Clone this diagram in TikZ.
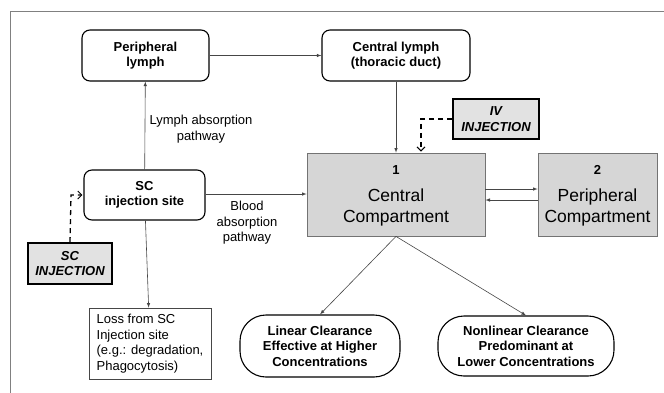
\documentclass[tikz,border=0pt]{standalone}
\usepackage{fontspec}
\setmainfont{Liberation Sans}
\usepackage{xcolor}
\usetikzlibrary{calc,arrows,arrows.meta,positioning}
\definecolor{boxgray}{RGB}{214,214,214}
\definecolor{injgray}{RGB}{226,226,226}
\definecolor{linegray}{RGB}{70,70,70}
\newcommand{\diagfont}{\fontsize{13}{15.5}\selectfont}
\newcommand{\compfont}{\fontsize{17.5}{21}\selectfont}
\tikzset{
	roundbox/.style={draw,line width=1.1pt,rounded corners=8pt,align=center,font=\diagfont\bfseries},
	pillbox/.style={draw,line width=1.1pt,rounded corners=26pt,align=center,font=\diagfont\bfseries},
	compbox/.style={draw=gray!90!black,line width=0.8pt,fill=boxgray,align=center},
	injbox/.style={draw,line width=1.6pt,fill=injgray,align=center,font=\diagfont\bfseries\itshape},
	thinarrow/.style={-latex,linegray,line width=0.6pt},
	dasharrow/.style={-{Straight Barb[length=4pt,width=8pt,line width=1pt]},line width=1.3pt,dash pattern=on 5pt off 4pt}
}
\begin{document}
\begin{tikzpicture}[x=1pt,y=-1pt,font=\diagfont]
		\useasboundingbox (0,0) rectangle (664,392);
		\draw [gray,line width=0.8pt](10,420) -- (10,11) -- (700,11);
		% lymph boxes
		\node[roundbox,minimum width=127pt,minimum height=51pt] (plymph) at (145.5,55.5) {Peripheral\\lymph};
		\node[roundbox,minimum width=148pt,minimum height=51pt] (clymph) at (396,55.5) {Central lymph\\(thoracic duct)};
		\node[roundbox,minimum width=121pt,minimum height=50pt] (scsite) at (144.5,195) {SC\\injection site};
		% compartments
		\node[compbox,minimum width=178pt,minimum height=83pt] (central) at (396,194.5) {};
		\node[font=\diagfont\bfseries] (cnum) at (396,170) {1};
		\node[font=\compfont,align=center] (ctext) at (396,207) {Central\\Compartment};
		\node[compbox,minimum width=119pt,minimum height=83pt] (periph) at (597.5,194.5) {};
		\node[font=\diagfont\bfseries] (pnum) at (597.5,170) {2};
		\node[font=\compfont,align=center] (ptext) at (597.5,207) {Peripheral\\Compartment};
		% injections
		\node[injbox,minimum width=86pt,minimum height=40pt] (iv) at (496,119) {IV\\INJECTION};
		\node[injbox,minimum width=84pt,minimum height=41pt] (scinj) at (70,263.5) {SC\\INJECTION};
		\node[draw,linegray,line width=0.6pt,text=black,align=left,minimum width=122pt,minimum height=71pt] (loss) at (150,343.5) {Loss from SC\\Injection site\\(e.g.: degradation,\\Phagocytosis)};
		% clearance
		\node[pillbox,minimum width=160pt,minimum height=62pt] (linear) at (320,346) {Linear Clearance\\Effective at Higher\\Concentrations};
		\node[pillbox,minimum width=176pt,minimum height=60pt] (nonlin) at (526,346) {Nonlinear Clearance\\Predominant at\\Lower Concentrations};
		% connectors
		\draw[thinarrow] (plymph) -- (clymph);
		\draw[thinarrow] (scsite) -- (plymph);
		\node[align=center] (lymphlbl) at (201,129) {Lymph absorption\\pathway};
		\draw[thinarrow] (scsite.east |- 0,194) -- (central.west |- 0,194);
		\node[align=center] (bloodlbl) at (247,223) {Blood\\absorption\\pathway};
		\draw[thinarrow] (clymph) -- (central);
		\draw[thinarrow] (scsite) -- (loss);
		\draw[thinarrow] ([yshift=5.5pt]central.east) -- ([yshift=5.5pt]periph.west);
		\draw[thinarrow] ([yshift=-5.5pt]periph.west) -- ([yshift=-5.5pt]central.east);
		\draw[thinarrow] (central.south) -- (linear.north);
		\draw[thinarrow] (central.south) -- (nonlin.north);
		\coordinate (ivbend) at (421,119);
		\draw[dasharrow] (iv.west) -- (ivbend) -- ([yshift=1pt]ivbend |- central.north);
		\coordinate (scbend) at (71,195);
		\draw[dasharrow] (scinj.north) -- (scbend) -- ([xshift=-1pt]scsite.west |- scbend);
	\end{tikzpicture}
\end{document}
